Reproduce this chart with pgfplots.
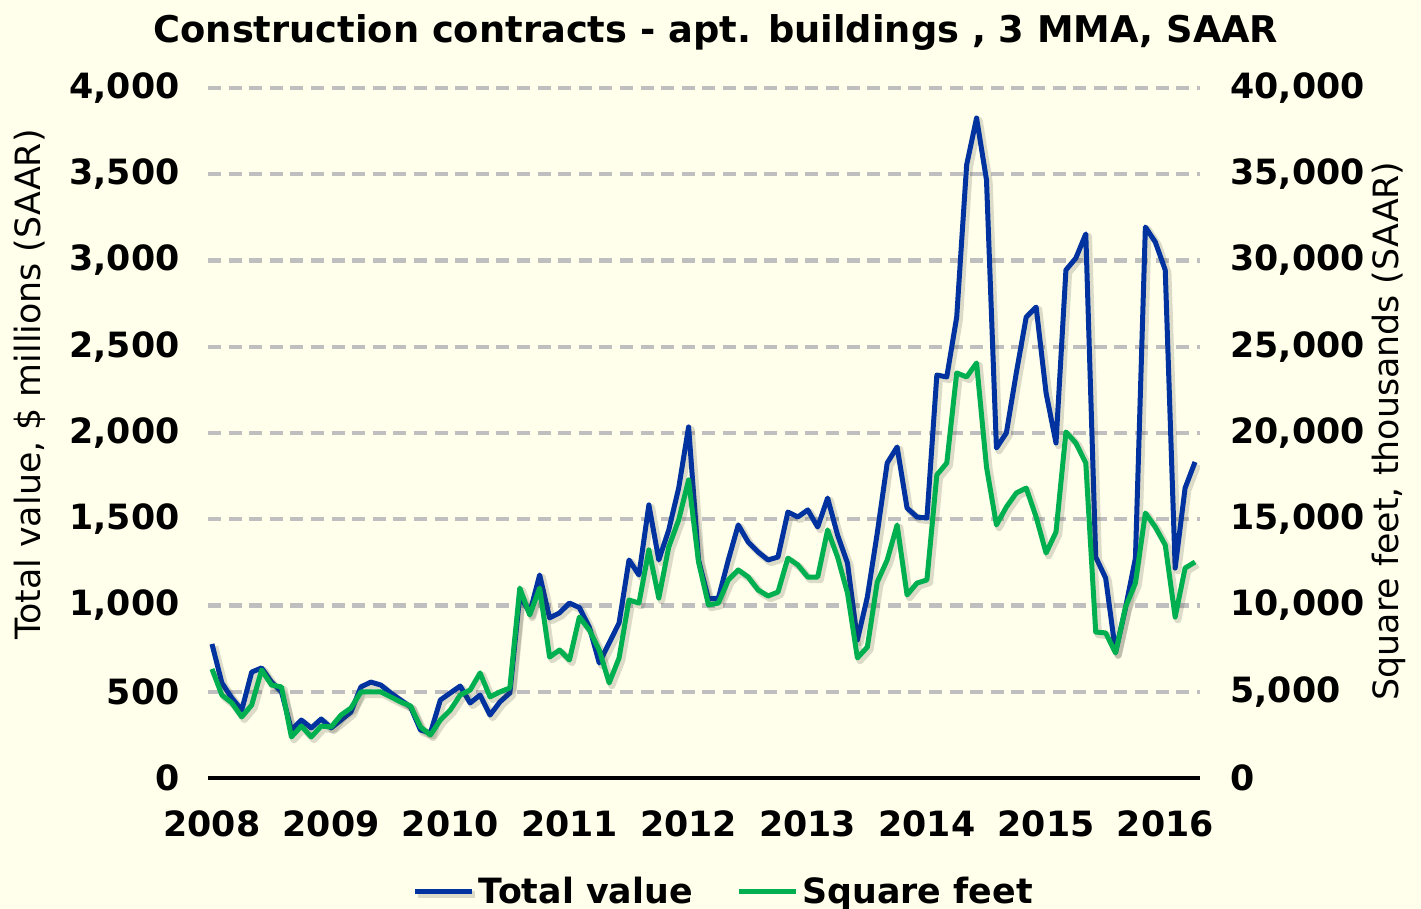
\documentclass[border=0pt]{standalone}
\usepackage{fontspec}
\setmainfont{DejaVu Sans}
\usepackage{pgfplots}
\pgfplotsset{compat=1.18}
\usepackage{pgfplotstable}
\definecolor{bg}{RGB}{255,255,235}
\definecolor{tvblue}{RGB}{0,51,160}
\definecolor{sfgreen}{RGB}{0,176,80}
\definecolor{gridgray}{RGB}{191,191,191}

\pgfplotstableread{
m v
0 777
1 551
2 464
3 394
4 614
5 638
6 556
7 500
8 278
9 336
10 290
11 342
12 290
13 336
14 383
15 528
16 556
17 539
18 493
19 452
20 412
21 278
22 261
23 452
24 493
25 533
26 435
27 481
28 365
29 441
30 493
31 1060
32 957
33 1177
34 928
35 957
36 1014
37 988
38 875
39 667
40 783
41 899
42 1264
43 1177
44 1583
45 1264
46 1438
47 1681
48 2035
49 1264
50 1038
51 1043
52 1264
53 1467
54 1368
55 1310
56 1264
57 1281
58 1542
59 1513
60 1554
61 1455
62 1623
63 1409
64 1246
65 800
66 1049
67 1420
68 1826
69 1919
70 1565
71 1513
72 1507
73 2336
74 2325
75 2672
76 3554
77 3826
78 3467
79 1913
80 2000
81 2348
82 2672
83 2730
84 2232
85 1942
86 2945
87 3014
88 3154
89 1281
90 1159
91 730
92 986
93 1275
94 3194
95 3107
96 2945
97 1217
98 1681
99 1832
}\tvdata

\pgfplotstableread{
m v
0 6320
1 4810
2 4350
3 3540
4 4230
5 6260
6 5390
7 5280
8 2380
9 3010
10 2380
11 3010
12 2960
13 3650
14 4060
15 4990
16 4990
17 4990
18 4700
19 4410
20 4170
21 2960
22 2490
23 3360
24 3940
25 4810
26 5100
27 6090
28 4700
29 4990
30 5220
31 11010
32 9450
33 11010
34 7010
35 7420
36 6840
37 9330
38 8580
39 7420
40 5510
41 6960
42 10320
43 10140
44 13220
45 10430
46 13390
47 14960
48 17280
49 12520
50 10030
51 10140
52 11480
53 12060
54 11650
55 10900
56 10550
57 10780
58 12750
59 12350
60 11650
61 11650
62 14380
63 12810
64 10720
65 6960
66 7590
67 11360
68 12640
69 14670
70 10610
71 11300
72 11480
73 17570
74 18260
75 23480
76 23250
77 24060
78 18030
79 14670
80 15710
81 16520
82 16810
83 15130
84 13040
85 14260
86 20060
87 19420
88 18260
89 8460
90 8410
91 7250
92 9910
93 11300
94 15360
95 14550
96 13510
97 9330
98 12170
99 12520
}\sfdata

\tikzset{lshadow/.style={preaction={draw=black!75!olive, draw opacity=0.18, line width=3.6pt, transform canvas={xshift=1.3pt,yshift=-1.3pt}}}}

\begin{document}
\begin{tikzpicture}
\path[use as bounding box, fill=bg] (-104pt,-65.5pt) rectangle (606.5pt,389pt);
\pgfplotsset{
  common/.style={
    scale only axis, width=496pt, height=345pt,
    at={(0pt,0pt)}, anchor=south west,
    xmin=-0.4, xmax=99.5, ymin=0,
    major tick length=0pt,
    /pgf/number format/assume math mode=true,
    /pgf/number format/1000 sep={,},
    scaled y ticks=false,
    tick label style={font=\fontsize{17.4}{20}\selectfont\bfseries},
    label style={font=\fontsize{17.4}{20}\selectfont},
    y axis line style={draw=none},
  }
}
\begin{axis}[common,
  ymax=4000, ytick={0,500,...,4000},
  axis x line*=bottom, axis y line*=left,
  x axis line style={black, line width=1.8pt, -},
  xtick={0,12,...,96},
  xticklabels={2008,2009,2010,2011,2012,2013,2014,2015,2016},
  xticklabel style={anchor=north, yshift=-12.7pt},
  yticklabel style={anchor=east, xshift=-10.7pt},
  ymajorgrids, grid style={gridgray, line width=2.2pt, dash pattern=on 6.5pt off 3.8pt},
  ylabel={Total value, \$ millions (SAAR)},
  ylabel style={at={(axis description cs:-0.1794,0.57)}, anchor=center},
  title={Construction contracts - apt. buildings , 3 MMA, SAAR},
  title style={at={(axis description cs:0.512,1)}, anchor=base, yshift=16.5pt, font=\fontsize{18.4}{21}\selectfont\bfseries},
  legend style={at={(axis description cs:0.521,0)}, anchor=center, yshift=-57pt,
    draw=none, fill=none, font=\fontsize{17.4}{20}\selectfont\bfseries,
    /tikz/every even column/.append style={column sep=20pt}},
  legend columns=2,
  legend image code/.code={\draw[#1] (0pt,0pt) -- (28.5pt,0pt);},
]
\addplot[tvblue, line width=2.5pt, line join=round, lshadow] table[x=m,y=v]{\tvdata};
\addlegendentry{Total value}
\addlegendimage{sfgreen, line width=2.5pt}
\addlegendentry{Square feet}
\end{axis}
\begin{axis}[common,
  ymax=40000, ytick={0,5000,...,40000},
  axis x line=none, axis y line*=right,
  yticklabel style={anchor=west, xshift=11.7pt},
  ylabel={Square feet, thousands (SAAR)},
  ylabel style={at={(axis description cs:1.190,0.503)}, anchor=center},
]
\addplot[sfgreen, line width=2.5pt, line join=round, lshadow] table[x=m,y=v]{\sfdata};
\end{axis}
\end{tikzpicture}
\end{document}
